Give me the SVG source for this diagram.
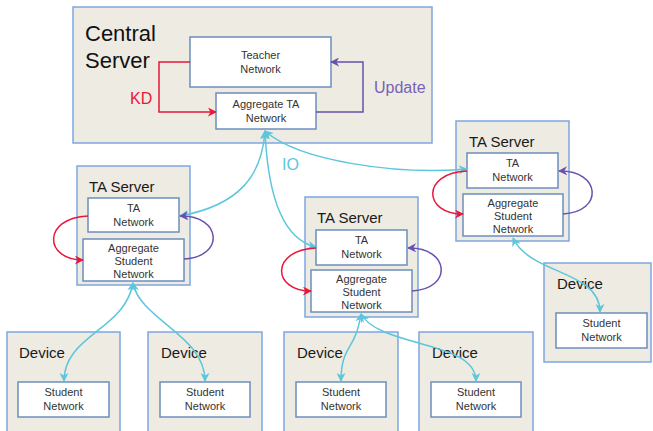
<svg xmlns="http://www.w3.org/2000/svg" width="653" height="431" viewBox="0 0 653 431">
<style>
.box{fill:#EEEBE2;stroke:#7EA6E0;stroke-width:1.5}
.in{fill:#FFFFFF;stroke:#6C8EBF;stroke-width:1.5}
.t{font-family:"Liberation Sans",Arial,sans-serif;font-size:11px;fill:#333333;text-anchor:middle}
.h{font-family:"Liberation Sans",Arial,sans-serif;font-size:15px;fill:#1a1a1a}
.cyan{fill:none;stroke:#5BC6DC;stroke-width:1.5;marker-start:url(#ac);marker-end:url(#ac)}
.red{fill:none;stroke:#E8173B;stroke-width:1.5;marker-end:url(#ar)}
.pur{fill:none;stroke:#6A4FAF;stroke-width:1.5;marker-end:url(#ap)}
</style>
<defs>
<marker id="ac" viewBox="0 0 10 10" refX="9" refY="5" markerWidth="9" markerHeight="9" markerUnits="userSpaceOnUse" orient="auto-start-reverse"><path d="M0,0 L10,5 L0,10 L3,5 z" fill="#5BC6DC"/></marker>
<marker id="ar" viewBox="0 0 10 10" refX="9" refY="5" markerWidth="9" markerHeight="9" markerUnits="userSpaceOnUse" orient="auto"><path d="M0,0 L10,5 L0,10 L3,5 z" fill="#E8173B"/></marker>
<marker id="ap" viewBox="0 0 10 10" refX="9" refY="5" markerWidth="9" markerHeight="9" markerUnits="userSpaceOnUse" orient="auto"><path d="M0,0 L10,5 L0,10 L3,5 z" fill="#6A4FAF"/></marker>
</defs>
<rect width="653" height="431" fill="#FFFFFF"/>

<g id="central-server">
<rect class="box" x="73" y="7" width="359" height="136"/>
<text x="85" y="41" font-family="Liberation Sans,Arial,sans-serif" font-size="22" fill="#111">Central</text>
<text x="85" y="68" font-family="Liberation Sans,Arial,sans-serif" font-size="22" fill="#111">Server</text>
</g>
<g id="teacher-network">
<rect class="in" x="190" y="37" width="141" height="50"/>
<text class="t" x="260.5" y="59">Teacher</text>
<text class="t" x="260.5" y="73">Network</text>
</g>
<g id="aggregate-ta-network">
<rect class="in" x="216" y="93" width="100" height="36"/>
<text class="t" x="266" y="108">Aggregate TA</text>
<text class="t" x="266" y="122">Network</text>
</g>

<g id="ta-server-1">
<rect class="box" x="77" y="166" width="113" height="119"/>
<text class="h" x="89" y="192">TA Server</text>
<rect class="in" x="88" y="198" width="91" height="34"/>
<text class="t" x="133.5" y="212">TA</text>
<text class="t" x="133.5" y="226">Network</text>
<rect class="in" x="83" y="239" width="101" height="42"/>
<text class="t" x="133.5" y="252">Aggregate</text>
<text class="t" x="133.5" y="265">Student</text>
<text class="t" x="133.5" y="278">Network</text>
</g>

<g id="ta-server-2">
<rect class="box" x="305" y="197" width="113" height="120"/>
<text class="h" x="317" y="223">TA Server</text>
<rect class="in" x="316" y="230" width="91" height="35"/>
<text class="t" x="361.5" y="244">TA</text>
<text class="t" x="361.5" y="258">Network</text>
<rect class="in" x="311" y="270" width="101" height="42"/>
<text class="t" x="361.5" y="283">Aggregate</text>
<text class="t" x="361.5" y="296">Student</text>
<text class="t" x="361.5" y="309">Network</text>
</g>

<g id="ta-server-3">
<rect class="box" x="456" y="121" width="113" height="120"/>
<text class="h" x="469" y="147">TA Server</text>
<rect class="in" x="467" y="153" width="91" height="35"/>
<text class="t" x="512.5" y="167">TA</text>
<text class="t" x="512.5" y="181">Network</text>
<rect class="in" x="463" y="194" width="100" height="42"/>
<text class="t" x="513" y="207">Aggregate</text>
<text class="t" x="513" y="220">Student</text>
<text class="t" x="513" y="233">Network</text>
</g>

<g id="device-1">
<rect class="box" x="7" y="332" width="113" height="105"/>
<text class="h" x="19" y="358">Device</text>
<rect class="in" x="18" y="382" width="91" height="35"/>
<text class="t" x="63.5" y="396">Student</text>
<text class="t" x="63.5" y="410">Network</text>
</g>
<g id="device-2">
<rect class="box" x="148" y="332" width="114" height="105"/>
<text class="h" x="161" y="358">Device</text>
<rect class="in" x="160" y="382" width="90" height="35"/>
<text class="t" x="205" y="396">Student</text>
<text class="t" x="205" y="410">Network</text>
</g>
<g id="device-3">
<rect class="box" x="284" y="332" width="114" height="105"/>
<text class="h" x="297" y="358">Device</text>
<rect class="in" x="296" y="382" width="90" height="35"/>
<text class="t" x="341" y="396">Student</text>
<text class="t" x="341" y="410">Network</text>
</g>
<g id="device-4">
<rect class="box" x="419" y="332" width="114" height="105"/>
<text class="h" x="432" y="358">Device</text>
<rect class="in" x="431" y="382" width="90" height="35"/>
<text class="t" x="476" y="396">Student</text>
<text class="t" x="476" y="410">Network</text>
</g>
<g id="device-5">
<rect class="box" x="544" y="263" width="107" height="99"/>
<text class="h" x="557" y="289">Device</text>
<rect class="in" x="556" y="313" width="91" height="35"/>
<text class="t" x="601.5" y="327">Student</text>
<text class="t" x="601.5" y="341">Network</text>
</g>

<g id="connectors">
<path class="red" d="M190,62 L159,62 L159,112 L216,112"/>
<path class="pur" d="M316,112 L363,112 L363,62 L331,62"/>
<text x="130" y="104" font-family="Liberation Sans,Arial,sans-serif" font-size="16" fill="#E8173B">KD</text>
<text x="374" y="93" font-family="Liberation Sans,Arial,sans-serif" font-size="16" fill="#7B5FB8">Update</text>

<path class="cyan" d="M265,131 C262,175 240,205 180,216"/>
<path class="cyan" d="M265,131 C268,200 285,240 316,247"/>
<path class="cyan" d="M265,131 C300,162 400,175 467,169"/>
<text x="282" y="170" font-family="Liberation Sans,Arial,sans-serif" font-size="16" fill="#5BC6DC">IO</text>

<path class="red" d="M88,216 C42,218 44,260 83,260"/>
<path class="pur" d="M184,259 C225,257 222,215 180,216"/>
<path class="red" d="M316,248 C270,250 272,291 311,291"/>
<path class="pur" d="M412,291 C453,289 450,247 408,248"/>
<path class="red" d="M467,171 C421,173 423,214 463,214"/>
<path class="pur" d="M563,214 C604,212 601,170 559,171"/>

<path class="cyan" d="M133,283 C125,330 64,335 64,381"/>
<path class="cyan" d="M133,283 C140,320 205,335 205,381"/>
<path class="cyan" d="M361,314 C355,352 341,345 341,381"/>
<path class="cyan" d="M361,314 C380,348 476,340 476,381"/>
<path class="cyan" d="M513,238 C530,275 600,270 600,312"/>
</g>
</svg>
